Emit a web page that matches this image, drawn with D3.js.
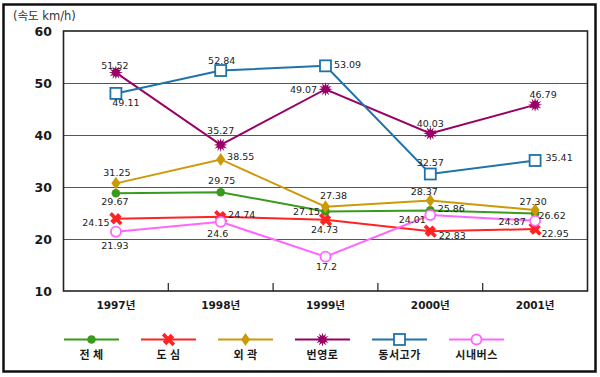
<!DOCTYPE html>
<html>
<head>
<meta charset="utf-8">
<script src="https://cdn.jsdelivr.net/npm/d3@7"></script>
<style>
  html, body { margin: 0; padding: 0; background: #fff; }
  svg { display: block; }
</style>
</head>
<body>
<div id="chart"></div>
<script>
// speed by road type, 1997-2001 (km/h)
const years = ['1997년', '1998년', '1999년', '2000년', '2001년'];
const yTicks = [10, 20, 30, 40, 50, 60];

// plotted values (as drawn in the picture)
const total   = [28.8, 29.0, 25.3, 25.5, 24.9];
const center  = [23.9, 24.3, 23.7, 21.5, 21.9];
const outer   = [30.7, 35.3, 26.2, 27.4, 25.6];
const arterial = [52.0, 38.1, 48.8, 40.3, 45.8];
const expressway = [48.0, 52.4, 53.3, 32.5, 35.1];
const cityBus = [21.4, 23.3, 16.6, 24.6, 23.5];

// value labels printed next to the points
const totalLabels   = ['29.67', '29.75', '27.15', '25.86', '26.62'];
const centerLabels  = ['24.15', '24.74', '24.73', '22.83', '22.95'];
const outerLabels   = ['31.25', '38.55', '27.38', '28.37', '27.30'];
const arterialLabels = ['51.52', '35.27', '49.07', '40.03', '46.79'];
const expresswayLabels = ['49.11', '52.84', '53.09', '32.57', '35.41'];
const cityBusLabels = ['21.93', '24.6', '17.2', '24.01', '24.87'];

const seriesNames = ['전 체', '도 심', '외 곽', '번영로', '동서고가', '시내버스'];

// label offsets from each point [dx, dy] (layout only)
const labelOffsets = [
  [[-1, 12], [1, -8], [-19, 3.5], [21, 2], [17, 5]],
  [[-20, 7], [21, 1], [-1, 13.5], [22, 7.5], [20, 7.5]],
  [[1, -7], [20, 0.5], [8, -8], [-6, -5.7], [-2, -5]],
  [[-1, -4], [0, -11], [-22, 4], [0, -6], [8, -6.5]],
  [[10, 13], [1, -7], [22, 2], [0, -8.5], [24, 1]],
  [[-1, 17.5], [-3, 15], [1, 13], [-18, 7.5], [-23, 4.5]]
];

const styles = [
  { color: '#3a9a1e', marker: 'dot' },
  { color: '#ff2323', marker: 'x' },
  { color: '#cc9a06', marker: 'diamond' },
  { color: '#990066', marker: 'star' },
  { color: '#1f73a8', marker: 'square' },
  { color: '#ff66ff', marker: 'ring' }
];

const series = [total, center, outer, arterial, expressway, cityBus].map((values, i) => ({
  name: seriesNames[i],
  values,
  labels: [totalLabels, centerLabels, outerLabels, arterialLabels, expresswayLabels, cityBusLabels][i],
  offsets: labelOffsets[i],
  ...styles[i]
}));

const width = 600, height = 377;
const plot = { left: 63.5, right: 587.5, top: 31, bottom: 291 };

const svg = d3.select('#chart').append('svg')
  .attr('width', width)
  .attr('height', height)
  .attr('viewBox', [0, 0, width, height]);

// outer frame
svg.append('rect')
  .attr('x', 3.5).attr('y', 4.5)
  .attr('width', 592).attr('height', 367)
  .attr('fill', '#fff')
  .attr('stroke', '#111')
  .attr('stroke-width', 2.5);

const x = d3.scaleBand().domain(years).range([plot.left, plot.right]);
const y = d3.scaleLinear().domain([10, 60]).range([plot.bottom, plot.top]);
const cx = d => x(d) + x.bandwidth() / 2;

// gridlines
svg.append('g')
  .selectAll('line')
  .data(yTicks.slice(1, -1))
  .join('line')
  .attr('x1', plot.left).attr('x2', plot.right)
  .attr('y1', d => Math.round(y(d)) + 0.5).attr('y2', d => Math.round(y(d)) + 0.5)
  .attr('stroke', '#555')
  .attr('stroke-width', 1.2);

// plot border
svg.append('rect')
  .attr('x', plot.left).attr('y', plot.top)
  .attr('width', plot.right - plot.left).attr('height', plot.bottom - plot.top)
  .attr('fill', 'none')
  .attr('stroke', '#222')
  .attr('stroke-width', 1.6);

// x tick marks between categories, pointing up from the bottom
svg.append('g')
  .selectAll('line')
  .data(years.slice(1))
  .join('line')
  .attr('x1', d => x(d)).attr('x2', d => x(d))
  .attr('y1', plot.bottom).attr('y2', plot.bottom - 8)
  .attr('stroke', '#222')
  .attr('stroke-width', 1.2);

// y tick labels
svg.append('g')
  .selectAll('text')
  .data(yTicks)
  .join('text')
  .attr('x', 52)
  .attr('y', d => y(d) + 4.5)
  .attr('text-anchor', 'end')
  .attr('font-family', 'DejaVu Sans, sans-serif')
  .attr('font-size', 12.5)
  .attr('font-weight', 700)
  .attr('fill', '#1a1a1a')
  .text(d => d);

// unit label
svg.append('text')
  .attr('x', 13).attr('y', 19.5)
  .attr('font-family', 'DejaVu Sans, "Noto Sans CJK KR", sans-serif')
  .attr('font-size', 11.5)
  .attr('fill', '#333')
  .text('(속도 km/h)');

// x category labels
svg.append('g')
  .selectAll('text')
  .data(years)
  .join('text')
  .attr('x', d => cx(d))
  .attr('y', 309)
  .attr('text-anchor', 'middle')
  .attr('font-family', 'DejaVu Sans, "Noto Sans CJK KR", sans-serif')
  .attr('font-size', 10.5)
  .attr('font-weight', 700)
  .attr('fill', '#1a1a1a')
  .text(d => d);

function starPath(r1, r2, n) {
  const p = d3.path();
  for (let i = 0; i < n * 2; i++) {
    const r = i % 2 === 0 ? r1 : r2;
    const a = (Math.PI * i) / n - Math.PI / 2;
    if (i === 0) p.moveTo(r * Math.cos(a), r * Math.sin(a));
    else p.lineTo(r * Math.cos(a), r * Math.sin(a));
  }
  p.closePath();
  return p.toString();
}

function drawMarker(g, type, color) {
  if (type === 'dot') {
    g.append('circle').attr('r', 4.3).attr('fill', color);
  } else if (type === 'x') {
    g.append('path')
      .attr('d', d3.symbol(d3.symbolCross, 95)())
      .attr('transform', 'rotate(45) scale(1.15,0.85)')
      .attr('fill', color);
  } else if (type === 'diamond') {
    g.append('path')
      .attr('d', 'M0,-6.5L4.5,0L0,6.5L-4.5,0Z')
      .attr('fill', color);
  } else if (type === 'star') {
    g.append('path')
      .attr('d', starPath(7, 3.6, 12))
      .attr('fill', color);
  } else if (type === 'square') {
    g.append('rect')
      .attr('x', -5.5).attr('y', -5.5)
      .attr('width', 11).attr('height', 11)
      .attr('fill', '#fff')
      .attr('stroke', color)
      .attr('stroke-width', 1.8);
  } else if (type === 'ring') {
    g.append('circle').attr('r', 5)
      .attr('fill', '#fff')
      .attr('stroke', color)
      .attr('stroke-width', 1.8);
  }
}

const line = d3.line()
  .x((d, i) => cx(years[i]))
  .y(d => y(d));

const seriesG = svg.append('g');
series.forEach(s => {
  const g = seriesG.append('g');
  g.append('path')
    .datum(s.values)
    .attr('d', line)
    .attr('fill', 'none')
    .attr('stroke', s.color)
    .attr('stroke-width', 2);
  s.values.forEach((v, i) => {
    const m = g.append('g').attr('transform', `translate(${cx(years[i])},${y(v)})`);
    drawMarker(m, s.marker, s.color);
  });
});

// value labels on top
const labelsG = svg.append('g');
series.forEach(s => {
  s.values.forEach((v, i) => {
    labelsG.append('text')
      .attr('x', cx(years[i]) + s.offsets[i][0])
      .attr('y', y(v) + s.offsets[i][1])
      .attr('text-anchor', 'middle')
      .attr('font-family', 'DejaVu Sans, sans-serif')
      .attr('font-size', 9.5)
      .attr('fill', '#222')
      .text(s.labels[i]);
  });
});

// legend
const legendX = d3.scalePoint().domain(seriesNames).range([91.5, 476.5]);
const legend = svg.append('g')
  .selectAll('g')
  .data(series)
  .join('g')
  .attr('transform', d => `translate(${legendX(d.name)},339.5)`);

legend.append('line')
  .attr('x1', -27.5).attr('x2', 27.5)
  .attr('stroke', d => d.color)
  .attr('stroke-width', 2.2);

legend.each(function (d) {
  drawMarker(d3.select(this).append('g'), d.marker, d.color);
});

legend.append('text')
  .attr('y', 19.5)
  .attr('text-anchor', 'middle')
  .attr('font-family', '"Noto Sans CJK KR", sans-serif')
  .attr('font-size', 11)
  .attr('font-weight', 700)
  .attr('letter-spacing', 0.5)
  .attr('fill', '#1a1a1a')
  .text(d => d.name);
</script>
</body>
</html>
